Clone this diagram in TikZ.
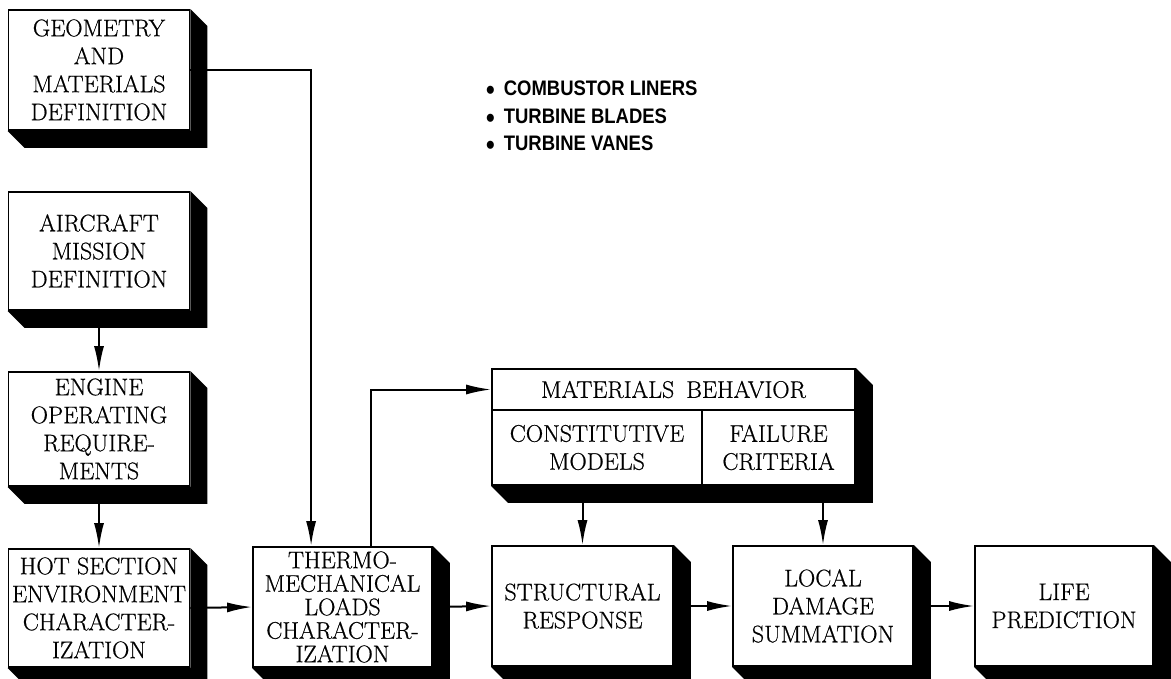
\documentclass[tikz,border=0pt]{standalone}
\usepackage{fontspec}
\setmainfont{Latin Modern Roman}[FakeBold=0.6]
\newfontfamily\bulfont[FakeStretch=0.88]{Liberation Sans}
\usetikzlibrary{arrows.meta,calc}
\newcommand\shd[3]{\fill ($(#1)$) -- ++(17,17) -- ($(#2)+(17,17)$) -- ($(#3)+(17,17)$) -- ($(#3)$) -- ($(#2)$) -- cycle;}
\newcommand\shdw[1]{\shd{#1.north east}{#1.south east}{#1.south west}}
\newcommand\bigbul{\raisebox{-4pt}{\fontsize{28}{24}\selectfont\textbullet}}
\begin{document}
\begin{tikzpicture}[x=1pt,y=-1pt,
  box/.style={draw, line width=1.8pt, fill=white, align=center, inner sep=0pt,
    minimum width=181pt, minimum height=120pt, font=\fontsize{24}{28}\selectfont},
  tight/.style={font=\fontsize{24}{23.5}\selectfont},
  arr/.style={line width=2pt, -{Latex[length=25pt,width=10pt]}},
  bul/.style={anchor=base west, inner sep=0pt, font=\bulfont\bfseries\fontsize{21}{24}\selectfont}]
\useasboundingbox (0,0) rectangle (1171,679);

% left column
\node[box] (geo) at (99,70) {GEOMETRY\\AND\\MATERIALS\\DEFINITION};
\shdw{geo}
\node[box, minimum height=118pt] (air) at (99,251) {AIRCRAFT\\MISSION\\DEFINITION};
\shdw{air}
\node[box, minimum height=114pt] (eng) at (99,429) {ENGINE\\OPERATING\\REQUIRE-\\MENTS};
\shdw{eng}
\node[box, minimum height=118pt] (hot) at (99,608) {HOT SECTION\\ENVIRONMENT\\CHARACTER-\\IZATION};
\shdw{hot}

% bottom row
\node[box, tight, minimum width=179pt] (thermo) at (342.5,607) {THERMO-\\MECHANICAL\\LOADS\\CHARACTER-\\IZATION};
\shdw{thermo}
\node[box] (str) at (582.5,606) {STRUCTURAL\\RESPONSE};
\shdw{str}
\node[box, minimum width=180pt] (loc) at (823,606) {LOCAL\\DAMAGE\\SUMMATION};
\shdw{loc}
\node[box, minimum width=178pt] (life) at (1064,606) {LIFE\\PREDICTION};
\shdw{life}

% materials behavior
\node[box, minimum width=363pt, minimum height=41pt] (mat) at (673.5,389.5) {MATERIALS\hspace{12pt}BEHAVIOR};
\node[box, minimum width=210pt, minimum height=75pt] (cons) at (597,447.5) {CONSTITUTIVE\\MODELS};
\node[box, minimum width=153pt, minimum height=75pt] (fail) at (778.5,447.5) {FAILURE\\CRITERIA};
\shd{mat.north east}{fail.south east}{cons.south west}

% bullets
\node[bul] (b1) at (486,96) {\bigbul\hspace{9pt}COMBUSTOR LINERS};
\node[bul] (b2) at (486,123.5) {\bigbul\hspace{9pt}TURBINE BLADES};
\node[bul] (b3) at (486,151) {\bigbul\hspace{9pt}TURBINE VANES};

% connectors
\coordinate (tin) at ($(thermo.north west)+(59,0)$);
\coordinate (tout) at ($(thermo.north west)+(119,0)$);
\draw[arr] (geo.east) -| (tin);
\draw[arr] (air.south) -- (eng.north);
\draw[arr] (eng.south) -- (hot.north);
\draw[arr] (hot.east) -- (thermo.west);
\draw[arr] (tout) |- (mat.west);
\draw[arr] (thermo.east) -- (str.west);
\draw[arr] (str.east) -- (loc.west);
\draw[arr] (loc.east) -- (life.west);
\draw[arr] (cons.south -| str.north) -- (str.north);
\draw[arr] (fail.south -| loc.north) -- (loc.north);
\end{tikzpicture}
\end{document}
